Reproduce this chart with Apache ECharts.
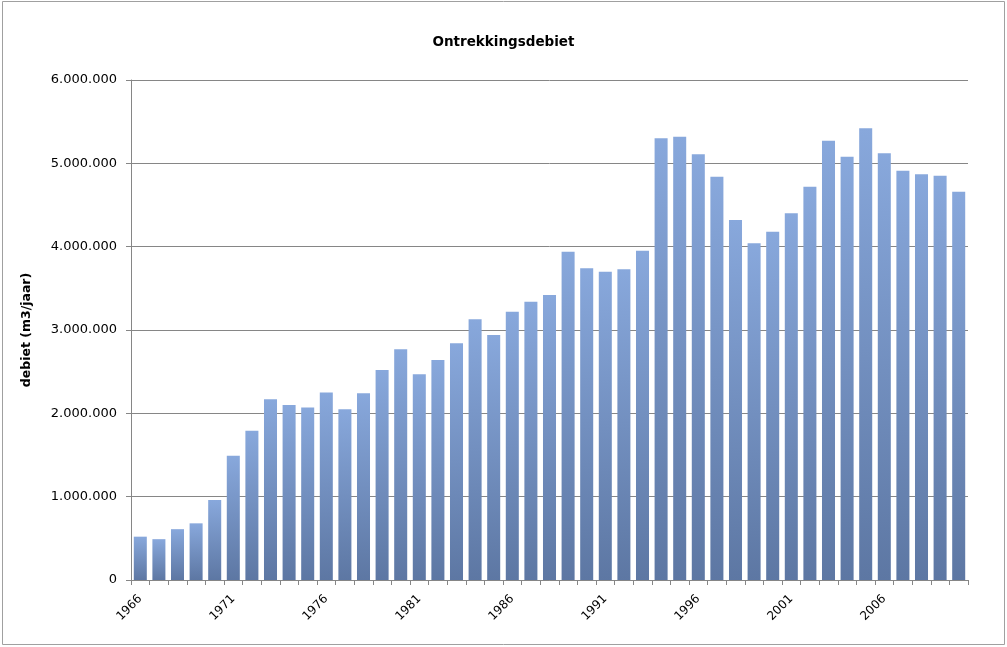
<!DOCTYPE html>
<html>
<head>
<meta charset="utf-8">
<script src="https://cdn.jsdelivr.net/npm/echarts@6/dist/echarts.min.js"></script>
<style>
html,body{margin:0;padding:0;background:#fff;}
#c{width:1007px;height:647px;}
</style>
</head>
<body>
<div id="c"></div>
<script>
const years = [];
for (let y = 1966; y <= 2010; y++) years.push(String(y));
const debiet = [
  520000, 490000, 610000, 680000, 960000, 1490000, 1790000, 2170000, 2100000, 2070000,
  2250000, 2050000, 2240000, 2520000, 2770000, 2470000, 2640000, 2840000, 3130000, 2940000,
  3220000, 3340000, 3420000, 3940000, 3740000, 3700000, 3730000, 3950000, 5300000, 5320000,
  5110000, 4840000, 4320000, 4040000, 4180000, 4400000, 4720000, 5270000, 5080000, 5420000,
  5120000, 4910000, 4870000, 4850000, 4660000
];
const yTicks = [0, 1000000, 2000000, 3000000, 4000000, 5000000, 6000000];

const fmt = v => String(v).replace(/\B(?=(\d{3})+(?!\d))/g, '.');
const font = '"DejaVu Sans", Verdana, sans-serif';

const chart = echarts.init(document.getElementById('c'), null, {renderer: 'canvas'});
chart.setOption({
  animation: false,
  backgroundColor: '#ffffff',
  title: {
    text: 'Ontrekkingsdebiet',
    left: 'center',
    top: 30,
    textStyle: {fontFamily: font, fontWeight: 'bold', fontSize: 13.5, color: '#000'}
  },
  graphic: [{
    type: 'rect',
    shape: {x: 2.5, y: 1.5, width: 1002, height: 643},
    style: {fill: 'none', stroke: '#a0a0a0', lineWidth: 1},
    silent: true
  }],
  grid: {left: 131, right: 39, top: 80, bottom: 67, containLabel: false},
  xAxis: {
    type: 'category',
    data: years,
    axisLine: {show: true, lineStyle: {color: '#868686', width: 1}},
    axisTick: {show: true, interval: 0, alignWithLabel: false, length: 5, lineStyle: {color: '#868686'}},
    axisLabel: {
      interval: 4,
      rotate: 45,
      margin: 17,
      fontFamily: font,
      fontSize: 12,
      color: '#000'
    },
    splitLine: {show: false}
  },
  yAxis: {
    type: 'value',
    min: yTicks[0],
    max: yTicks[yTicks.length - 1],
    interval: 1000000,
    name: 'debiet (m3/jaar)',
    nameLocation: 'middle',
    nameGap: 98,
    nameRotate: 90,
    nameTextStyle: {fontFamily: font, fontWeight: 'bold', fontSize: 12.5, color: '#000'},
    axisLine: {show: true, lineStyle: {color: '#868686', width: 1}},
    axisTick: {show: true, inside: false, length: 5, lineStyle: {color: '#868686'}},
    axisLabel: {
      formatter: v => fmt(v),
      margin: 14,
      fontFamily: font,
      fontSize: 13,
      color: '#000'
    },
    splitLine: {show: true, lineStyle: {color: '#868686', width: 1}}
  },
  series: [{
    type: 'bar',
    data: debiet,
    barCategoryGap: '30%',
    itemStyle: {
      color: new echarts.graphic.LinearGradient(0, 0, 0, 1, [
        {offset: 0, color: '#88a8dc'},
        {offset: 1, color: '#5d77a3'}
      ])
    }
  }]
});
</script>
</body>
</html>
